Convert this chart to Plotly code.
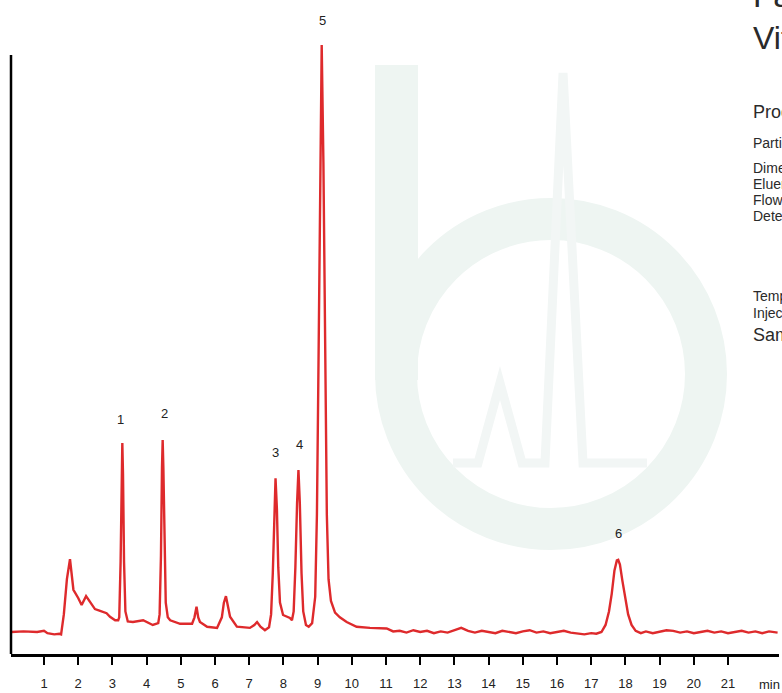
import plotly.graph_objects as go

# ---------------- data ----------------
time_min = [
    0.05, 0.40, 0.80, 1.00, 1.10, 1.30, 1.45, 1.50, 1.58, 1.67, 1.76, 1.81, 1.86, 2.00, 2.10, 2.23, 2.35,
    2.49, 2.64, 2.83, 2.93, 3.08, 3.17,
    3.20, 3.24, 3.27, 3.29, 3.31, 3.34, 3.38, 3.45,
    3.60, 3.90, 4.18, 4.34,
    4.38, 4.42, 4.45, 4.47, 4.49, 4.52, 4.56, 4.62, 4.69, 4.98, 5.33,
    5.40, 5.46, 5.51, 5.56, 5.77, 6.06, 6.20, 6.26, 6.32, 6.37, 6.44, 6.64, 7.02, 7.15, 7.23, 7.33, 7.46, 7.58,
    7.64, 7.69, 7.73, 7.77, 7.81, 7.85, 7.90, 7.99, 8.19, 8.25,
    8.30, 8.35, 8.40, 8.44, 8.48, 8.53, 8.58, 8.66, 8.74,
    8.84, 8.93, 8.98, 9.02, 9.07, 9.12, 9.17, 9.22, 9.27, 9.32, 9.39, 9.51, 9.65, 9.85, 10.14, 10.53, 11.02, 11.21,
    11.40, 11.60, 11.80, 12.00, 12.20, 12.40, 12.60, 12.80, 13.00, 13.20, 13.40, 13.60, 13.80, 14.00, 14.20,
    14.40, 14.60, 14.80, 15.00, 15.20, 15.40, 15.60, 15.80, 16.00, 16.20, 16.40, 16.60, 16.80, 17.00, 17.15,
    17.30, 17.42, 17.52, 17.60, 17.68, 17.75, 17.79, 17.84, 17.91, 17.99, 18.08, 18.18, 18.30,
    18.45, 18.60, 18.80, 19.00, 19.20, 19.40, 19.60, 19.80, 20.00, 20.20, 20.40, 20.60, 20.80, 21.00, 21.20,
    21.40, 21.60, 21.80, 22.00, 22.20, 22.45,
]
signal = [
    0.0, 0.1, 0.0, 0.2, -0.2, -0.4, -0.3, -0.4, 3.0, 9.0, 12.4, 9.5, 7.2, 5.8, 4.6, 6.1, 5.1,
    3.9, 3.6, 3.2, 2.6, 2.0, 2.0,
    2.5, 12.0, 27.0, 32.2, 27.0, 12.0, 3.5, 1.8,
    1.7, 2.0, 1.2, 1.5,
    3.0, 13.0, 28.0, 32.7, 28.0, 14.0, 5.0, 2.5, 2.0, 1.4, 1.4,
    2.5, 4.3, 2.5, 1.7, 0.9, 0.7, 2.5, 5.0, 6.1, 4.5, 2.6, 0.9, 0.7, 1.2, 1.7, 0.9, 0.3, 0.8,
    3.0, 10.0, 20.0, 26.2, 21.0, 11.0, 5.0, 2.9, 2.4, 2.0,
    3.5, 11.0, 22.0, 27.6, 22.0, 10.0, 3.5, 1.2, 0.9,
    1.5, 6.0, 20.0, 42.0, 78.0, 100.0, 80.0, 45.0, 20.0, 9.0, 5.3, 3.3, 2.5, 1.7, 0.9, 0.7, 0.6, 0.1,
    0.2, -0.1, 0.3, 0.0, 0.2, -0.2, 0.1, -0.1, 0.3, 0.7, 0.2, -0.1, 0.2, 0.0, -0.2,
    0.2, 0.0, -0.2, 0.1, 0.3, -0.1, 0.1, -0.2, 0.0, 0.2, -0.1, -0.3, -0.4, -0.2, -0.3,
    0.0, 1.2, 3.5, 6.5, 10.5, 12.2, 12.3, 11.5, 8.8, 6.0, 3.0, 1.2, 0.2,
    -0.2, 0.1, -0.2, 0.0, 0.3, 0.2, -0.1, 0.1, -0.2, 0.0, 0.2, -0.1, 0.1, -0.2, 0.0,
    0.2, -0.1, 0.1, -0.2, 0.1, -0.1,
]

peak_labels = ["1", "2", "3", "4", "5", "6"]
peak_label_time = [3.24, 4.51, 7.77, 8.46, 9.15, 17.79]
peak_label_signal = [36.2, 37.3, 30.5, 32.0, 104.1, 16.8]

tick_values = list(range(1, 22))
tick_labels = [str(v) for v in tick_values]
axis_unit = "min"

side_texts = ["Fat-Soluble", "Vitamins", "Product", "Particle size", "Dimensions", "Eluent",
              "Flow rate", "Detection", "Temperature", "Injection volume", "Sample"]

# ---------------- figure ----------------
FONT = "Liberation Sans, Arial, Helvetica, sans-serif"
RED = "#de2a2c"
W, H = 782, 693
ML, MR, MT, MB = 11, 3, 0, 39
PW, PH = W - ML - MR, H - MT - MB


def P(px, py):
    """pixel -> paper coordinates (decoration only)"""
    return (px - ML) / PW, (PH + MT - py) / PH


fig = go.Figure()
fig.add_trace(go.Scatter(x=time_min, y=signal, mode="lines",
                         line=dict(color=RED, width=2.4), hoverinfo="skip"))

# peak labels
for lab, tx, sy in zip(peak_labels, peak_label_time, peak_label_signal):
    fig.add_annotation(x=tx, y=sy, text=lab, showarrow=False, xref="x", yref="y",
                       font=dict(family=FONT, size=13, color="#222222"),
                       xanchor="center", yanchor="middle")

# "min" unit
ux, uy = P(757, 685)
fig.add_annotation(x=ux, y=uy, xref="paper", yref="paper", text=axis_unit, showarrow=False,
                   xanchor="left", yanchor="middle", font=dict(family=FONT, size=13, color="#222222"))

# right-hand side (cut-off) text block
side_pos = [(-4, 33), (38, 32), (112, 18), (143, 14), (168, 14), (184, 14), (200, 14), (216, 14),
            (296, 14), (313, 14), (335, 18)]
for txt, (py, fs) in zip(side_texts, side_pos):
    sx, sy = P(751, py)
    fig.add_annotation(x=sx, y=sy, xref="paper", yref="paper", text=txt, showarrow=False,
                       xanchor="left", yanchor="middle",
                       font=dict(family=FONT, size=fs, color="#2a2a2a"))

# watermark logo (very faint)
WM = "rgb(238,245,242)"
WM2 = "rgb(242,246,245)"
cx, cy, r = 551, 374, 155
x0, y0 = P(cx - r, cy - r)
x1, y1 = P(cx + r, cy + r)
fig.add_shape(type="circle", xref="paper", yref="paper", x0=x0, y0=y0, x1=x1, y1=y1,
              line=dict(color=WM, width=42), layer="below")
bx0, by0 = P(375, 65)
bx1, by1 = P(418, 380)
fig.add_shape(type="rect", xref="paper", yref="paper", x0=bx0, y0=by0, x1=bx1, y1=by1,
              line=dict(width=0), fillcolor=WM, layer="below")
pts = [(453, 463), (478, 463), (500, 383), (522, 463), (545, 463), (563, 73), (583, 463), (647, 463)]
path = "M " + " L ".join(f"{P(a, b)[0]:.4f},{P(a, b)[1]:.4f}" for a, b in pts)
fig.add_shape(type="path", xref="paper", yref="paper", path=path,
              line=dict(color=WM2, width=9), layer="below")

# y-axis line (drawn as shape, shorter than plot height)
ya0 = P(11.3, 654)[1]
ya1 = P(11.3, 55)[1]
fig.add_shape(type="line", xref="paper", yref="paper", x0=0.0, x1=0.0, y0=ya0, y1=ya1,
              line=dict(color="black", width=2.5))

# axes
x_lo = (ML - 9.8) / 34.2
x_hi = (W - MR - 9.8) / 34.2
px_per_unit = 5.87
y_lo = -(MT + PH - 632) / px_per_unit
y_hi = (632 - MT) / px_per_unit

fig.update_xaxes(range=[x_lo, x_hi], tickvals=tick_values, ticktext=tick_labels,
                 ticks="outside", ticklen=8, tickwidth=2, tickcolor="black",
                 showline=True, linecolor="black", linewidth=2.5,
                 showgrid=False, zeroline=False, ticklabelstandoff=8,
                 tickfont=dict(family=FONT, size=13, color="#222222"))
fig.update_yaxes(range=[y_lo, y_hi], visible=False, showgrid=False, zeroline=False)

fig.update_layout(width=W, height=H, margin=dict(l=ML, r=MR, t=MT, b=MB, pad=0),
                  paper_bgcolor="white", plot_bgcolor="white", showlegend=False)

fig.write_html("out.html")
